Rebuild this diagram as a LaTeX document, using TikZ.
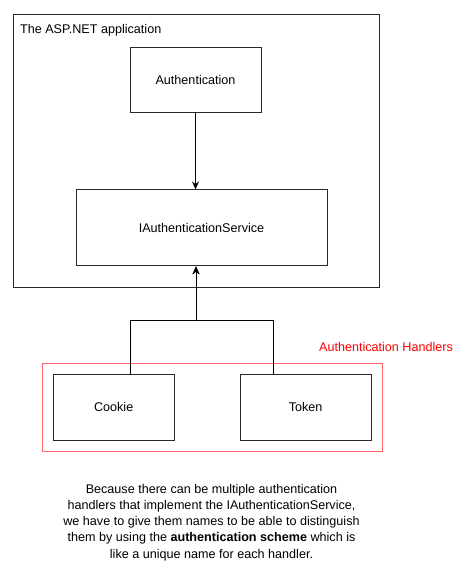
\documentclass[tikz,border=0pt]{standalone}
\usepackage{fontspec}
\setmainfont{Liberation Sans}
\usetikzlibrary{arrows.meta, positioning, fit, backgrounds}
\definecolor{boxLine}{RGB}{40,40,40}
\definecolor{handlerRed}{RGB}{255,0,0}
\tikzset{
    comp/.style={rectangle, draw=boxLine, line width=0.9pt, align=center,
                 minimum height=66pt, font=\fontsize{12.6}{14}\selectfont},
    zone/.style={rectangle, draw=#1, line width=0.9pt, inner sep=0pt},
    zone/.default=boxLine,
    flow/.style={-{Stealth[length=8pt, width=7pt]}, line width=0.9pt, black}
}
\begin{document}
\begin{tikzpicture}[x=1pt, y=-1pt, node distance=77pt]
    \useasboundingbox (0,0) rectangle (467,580);

    \node[comp, minimum width=131pt, minimum height=65pt] (auth) at (195.5,79.5) {Authentication};
    \node[comp, minimum width=251pt, minimum height=76pt, below=77pt of auth, xshift=6pt] (svc) {IAuthenticationService};
    \node[zone, minimum width=366pt, minimum height=273pt,
          label={[anchor=north west, font=\fontsize{12.6}{14}\selectfont, xshift=4pt, yshift=-7pt]north west:The ASP.NET application}] (app) at (196,150.5) {};

    \node[comp, minimum width=121pt] (cookie) at (113.7,407) {Cookie};
    \node[comp, minimum width=131pt, right=65pt of cookie] (token) {Token};

    \begin{scope}[on background layer]
        \node[zone=handlerRed!60, fit=(cookie)(token), inner sep=10.5pt] (handlers) {};
    \end{scope}
    \node[text=handlerRed, font=\fontsize{12.6}{14}\selectfont] (hlabel) at (386,347) {Authentication Handlers};

    \coordinate (join) at (196,320);
    \draw[flow] (auth.south) -- (auth.south |- svc.north);
    \draw[flow] ([xshift=16.3pt]cookie.north) |- (join) -- (join |- svc.south);
    \draw[flow] ([xshift=-32.5pt]token.north) |- (join) -- (join |- svc.south);

    \node[align=center, font=\fontsize{12.6}{16.2}\selectfont] (note) at (211.5,522.5)
        {Because there can be multiple authentication\\
         handlers that implement the IAuthenticationService,\\
         we have to give them names to be able to distinguish\\
         them by using the \textbf{authentication scheme} which is\\
         like a unique name for each handler.};
\end{tikzpicture}
\end{document}
